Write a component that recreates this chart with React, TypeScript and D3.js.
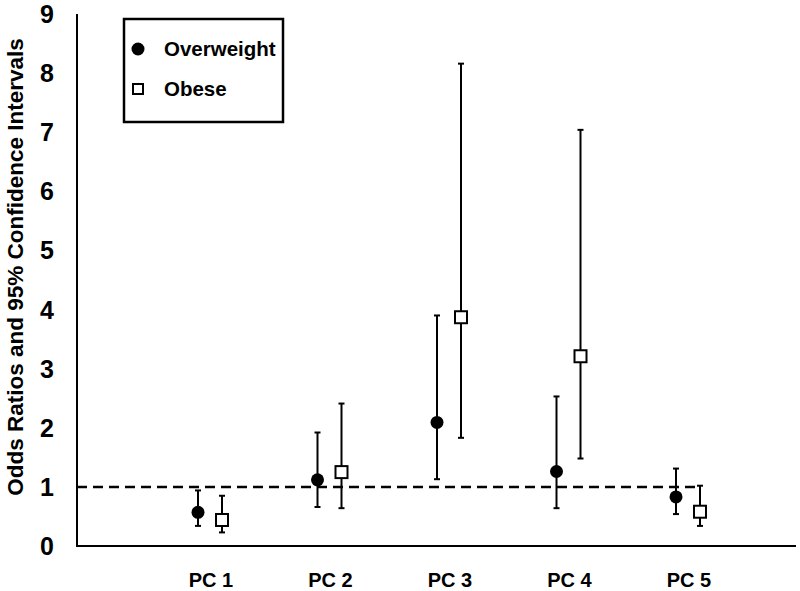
import React from "react";
import * as d3 from "d3";

const categories = ["PC 1", "PC 2", "PC 3", "PC 4", "PC 5"];
const overweightOR = [0.57, 1.12, 2.09, 1.26, 0.83];
const overweightLo = [0.34, 0.66, 1.13, 0.64, 0.54];
const overweightHi = [0.94, 1.92, 3.9, 2.53, 1.31];
const obeseOR = [0.44, 1.25, 3.87, 3.21, 0.58];
const obeseLo = [0.23, 0.64, 1.83, 1.48, 0.34];
const obeseHi = [0.85, 2.41, 8.16, 7.04, 1.02];
const yTicks = [0, 1, 2, 3, 4, 5, 6, 7, 8, 9];
const seriesNames = ["Overweight", "Obese"];
const refValue = 1;

const W = 800;
const H = 591;
const FONT = "'Liberation Sans', Arial, sans-serif";

export default function App() {
  const y = d3.scaleLinear().domain([0, 9]).range([546, 14]);
  const x = d3.scalePoint<string>().domain(categories).range([210, 688]);
  const axisLeft = 77;
  const axisRight = 796;
  const off = 12;
  const cap = 3;

  const series = [
    { name: seriesNames[0], or: overweightOR, lo: overweightLo, hi: overweightHi, dx: -off, shape: "circle" },
    { name: seriesNames[1], or: obeseOR, lo: obeseLo, hi: obeseHi, dx: off, shape: "square" },
  ];

  return (
    <svg width={W} height={H} style={{ position: "absolute", left: 0, top: 0, background: "#fff" }} fontFamily={FONT}>
      <rect x={0} y={0} width={W} height={H} fill="#fff" />
      {/* reference line */}
      <line x1={axisLeft} x2={x("PC 5")! + off} y1={y(refValue)} y2={y(refValue)} stroke="#000" strokeWidth={2.5} strokeDasharray="10,6" />
      {/* axes */}
      <line x1={axisLeft} x2={axisLeft} y1={y(9)} y2={y(0)} stroke="#000" strokeWidth={2} />
      <line x1={axisLeft - 1} x2={axisRight} y1={y(0)} y2={y(0)} stroke="#000" strokeWidth={2} />
      {yTicks.map((t) => (
        <text key={t} x={47} y={y(t)} dy="0.36em" textAnchor="middle" fontSize={25} fontWeight="bold" fill="#000">
          {t}
        </text>
      ))}
      {categories.map((c) => (
        <text key={c} x={x(c)! + 1} y={587} textAnchor="middle" fontSize={20} fontWeight="bold" fill="#000">
          {c}
        </text>
      ))}
      <text
        transform={`translate(23,${267}) rotate(-90)`}
        textAnchor="middle"
        fontSize={22.5}
        fontWeight="bold"
        fill="#000"
      >
        Odds Ratios and 95% Confidence Intervals
      </text>
      {/* error bars and markers */}
      {series.map((s) =>
        categories.map((c, i) => {
          const cx = x(c)! + s.dx;
          return (
            <g key={s.name + c}>
              <line x1={cx} x2={cx} y1={y(s.lo[i])} y2={y(s.hi[i])} stroke="#000" strokeWidth={2} />
              <line x1={cx - cap} x2={cx + cap} y1={y(s.lo[i])} y2={y(s.lo[i])} stroke="#000" strokeWidth={2} />
              <line x1={cx - cap} x2={cx + cap} y1={y(s.hi[i])} y2={y(s.hi[i])} stroke="#000" strokeWidth={2} />
              {s.shape === "circle" ? (
                <circle cx={cx} cy={y(s.or[i])} r={6.5} fill="#000" />
              ) : (
                <rect x={cx - 6} y={y(s.or[i]) - 6} width={12} height={12} fill="#fff" stroke="#000" strokeWidth={2} />
              )}
            </g>
          );
        })
      )}
      {/* legend */}
      <rect x={124} y={19} width={159} height={103} fill="#fff" stroke="#000" strokeWidth={2.5} />
      <circle cx={138} cy={49} r={6.5} fill="#000" />
      <rect x={133} y={84} width={10} height={10} fill="#fff" stroke="#000" strokeWidth={2} />
      <text x={164} y={56} fontSize={20.5} fontWeight="bold" fill="#000">{seriesNames[0]}</text>
      <text x={164} y={96} fontSize={20.5} fontWeight="bold" fill="#000">{seriesNames[1]}</text>
    </svg>
  );
}
